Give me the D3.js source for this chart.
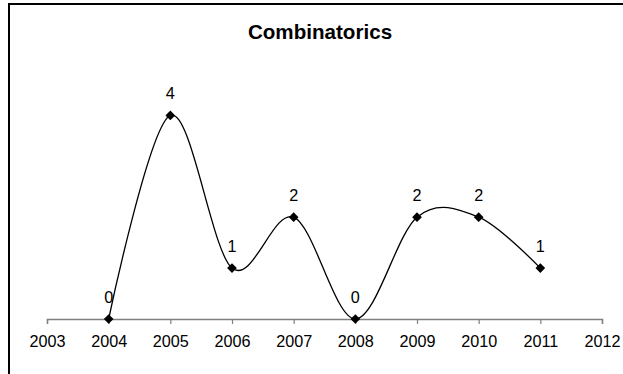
<!DOCTYPE html>
<html>
<head>
<meta charset="utf-8">
<script src="https://cdn.jsdelivr.net/npm/d3@7"></script>
<style>
  html, body { margin: 0; padding: 0; background: #fff; }
  svg { display: block; font-family: "Liberation Sans", Arial, sans-serif; }
</style>
</head>
<body>
<svg id="chart" width="623" height="374"></svg>
<script>
// Publications per year
const years = [2004, 2005, 2006, 2007, 2008, 2009, 2010, 2011];
const counts = [0, 4, 1, 2, 0, 2, 2, 1];
const axisTicks = [2003, 2004, 2005, 2006, 2007, 2008, 2009, 2010, 2011, 2012];
const chartTitle = "Combinatorics";

const svg = d3.select("#chart");
const W = 623, H = 374;
const FONT = "'Liberation Sans', Arial, sans-serif";

// Outer frame of the chart area
svg.append("rect")
  .attr("x", 9).attr("y", 4)
  .attr("width", W + 20).attr("height", H + 20)
  .attr("fill", "#fff")
  .attr("stroke", "#000")
  .attr("stroke-width", 2);

const x = d3.scaleLinear().domain([2003, 2012]).range([47, 602]);
const y = d3.scaleLinear().domain([0, 5]).range([319, 64.5]);

// Title
svg.append("text")
  .attr("x", 320).attr("y", 39)
  .attr("text-anchor", "middle")
  .attr("font-family", FONT)
  .attr("font-size", "20.6px")
  .attr("font-weight", "bold")
  .text(chartTitle);

// Horizontal axis
const xAxis = d3.axisBottom(x)
  .tickValues(axisTicks)
  .tickFormat(d3.format("d"))
  .tickSize(5)
  .tickPadding(11);

const gx = svg.append("g")
  .attr("transform", `translate(0,${y(0)})`)
  .call(xAxis)
  .attr("font-family", FONT)
  .attr("font-size", "16.2px");
gx.select(".domain").attr("stroke", "#808080").attr("stroke-width", 1.5);
gx.selectAll(".tick line").attr("stroke", "#808080").attr("stroke-width", 1.2);
gx.selectAll(".tick text").attr("fill", "#000");

const pts = years.map((yr, i) => ({ yr, v: counts[i] }));

// Smoothed series line
const line = d3.line()
  .x(d => x(d.yr))
  .y(d => y(d.v))
  .curve(d3.curveCardinal.tension(0));

svg.append("path")
  .datum(pts)
  .attr("d", line)
  .attr("fill", "none")
  .attr("stroke", "#000")
  .attr("stroke-width", 1.3);

// Diamond markers
svg.selectAll(".marker")
  .data(pts)
  .join("path")
  .attr("class", "marker")
  .attr("d", d3.symbol().type(d3.symbolDiamond2).size(60))
  .attr("transform", d => `translate(${x(d.yr)},${y(d.v)})`)
  .attr("fill", "#000");

// Value labels
svg.selectAll(".vlabel")
  .data(pts)
  .join("text")
  .attr("class", "vlabel")
  .attr("x", d => x(d.yr))
  .attr("y", d => y(d.v) - 16)
  .attr("text-anchor", "middle")
  .attr("font-family", FONT)
  .attr("font-size", "16.2px")
  .attr("fill", "#000")
  .text(d => d.v);
</script>
</body>
</html>
